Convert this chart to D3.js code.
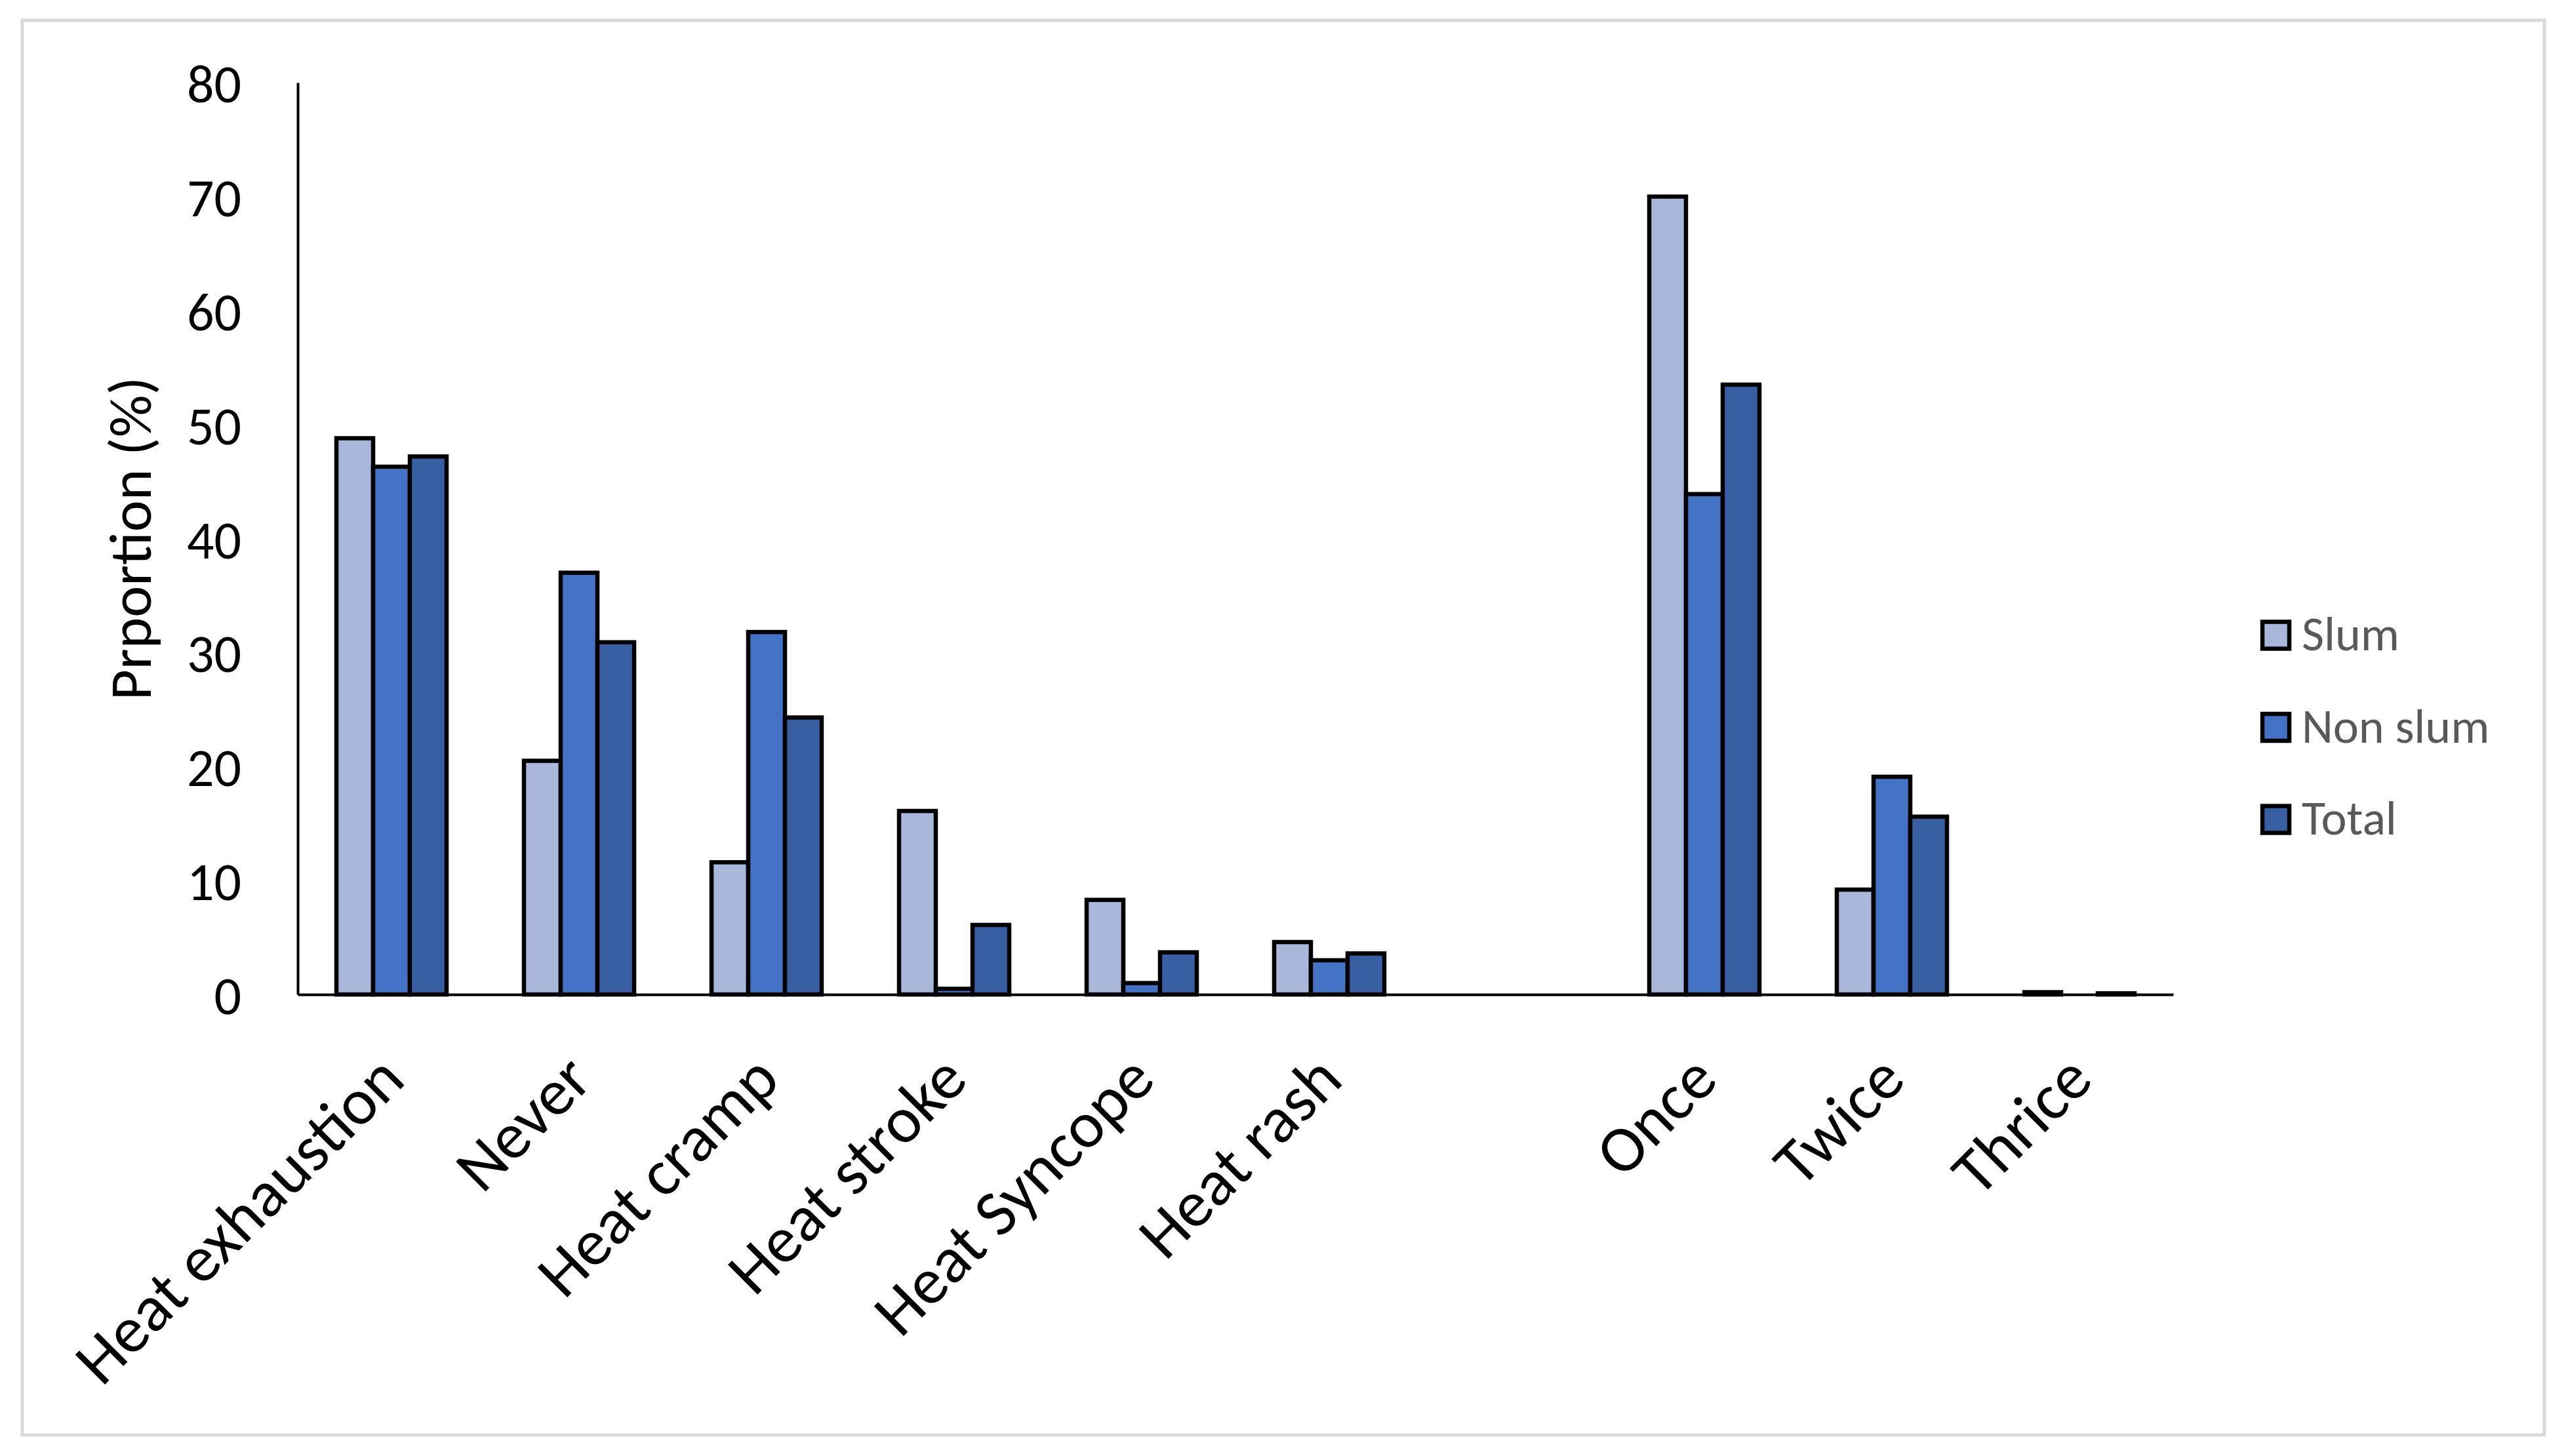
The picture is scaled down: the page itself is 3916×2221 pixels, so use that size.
<!DOCTYPE html>
<html>
<head>
<meta charset="utf-8">
<script src="https://cdn.jsdelivr.net/npm/d3@7"></script>
<style>
  body { margin: 0; background: #fff; }
  svg { display: block; font-family: Calibri, Carlito, Lato, sans-serif; }
</style>
</head>
<body>
<div id="chart"></div>
<script>
const categories = ['Heat exhaustion', 'Never', 'Heat cramp', 'Heat stroke',
  'Heat Syncope', 'Heat rash', '', 'Once', 'Twice', 'Thrice'];
const seriesNames = ['Slum', 'Non slum', 'Total'];
const slum = [48.8, 20.5, 11.6, 16.1, 8.3, 4.6, null, 70.0, 9.2, 0.2];
const nonSlum = [46.3, 37.0, 31.8, 0.5, 1.0, 3.0, null, 43.9, 19.1, 0];
const total = [47.2, 30.9, 24.3, 6.1, 3.7, 3.6, null, 53.5, 15.6, 0.1];
const yTicks = [0, 10, 20, 30, 40, 50, 60, 70, 80];

const colors = ['#A9B7DB', '#4472C4', '#375FA2'];
const values = [slum, nonSlum, total];

const width = 3916;
const height = 2221;
const margin = {top: 126, right: 602, bottom: 704, left: 454};

const svg = d3.select('#chart')
    .append('svg')
    .attr('width', width)
    .attr('height', height);

// chart frame
svg.append('rect')
    .attr('x', 34)
    .attr('y', 31)
    .attr('width', 3846)
    .attr('height', 2158)
    .attr('fill', '#fff')
    .attr('stroke', '#D9D9D9')
    .attr('stroke-width', 5);

const x0 = d3.scaleBand()
    .domain(categories)
    .range([margin.left, width - margin.right])
    .paddingInner(0.4126)
    .paddingOuter(0.2063);

const x1 = d3.scaleBand()
    .domain(seriesNames)
    .range([0, x0.bandwidth()]);

const y = d3.scaleLinear()
    .domain([0, 80])
    .range([height - margin.bottom, margin.top]);

const color = d3.scaleOrdinal(seriesNames, colors);

// bars
const rows = categories.map(function(c, i) {
  return {
    cat: c,
    vals: seriesNames.map(function(s, j) {
      return {series: s, value: values[j][i]};
    }).filter(function(d) {
      return d.value;
    }),
  };
});

const groups = svg.append('g')
    .selectAll('g')
    .data(rows)
    .enter()
    .append('g')
    .attr('transform', function(d) {
      return 'translate(' + x0(d.cat) + ',0)';
    });

groups.selectAll('rect')
    .data(function(d) {
      return d.vals;
    })
    .enter()
    .append('rect')
    .attr('x', function(d) {
      return x1(d.series);
    })
    .attr('y', function(d) {
      return y(d.value);
    })
    .attr('width', x1.bandwidth())
    .attr('height', function(d) {
      return y(0) - y(d.value);
    })
    .attr('fill', function(d) {
      return color(d.series);
    })
    .attr('stroke', '#000')
    .attr('stroke-width', 6.5);

// y axis
const yAxis = svg.append('g')
    .attr('transform', 'translate(' + margin.left + ',0)')
    .call(d3.axisLeft(y).tickValues(yTicks).tickSize(0).tickPadding(86))
    .attr('font-family', null)
    .attr('font-size', null);

yAxis.select('.domain')
    .attr('stroke', '#000')
    .attr('stroke-width', 4);

yAxis.selectAll('text')
    .attr('fill', '#000')
    .attr('dy', '0.36em')
    .style('font-size', '82px');

// x axis
const xAxis = svg.append('g')
    .attr('transform', 'translate(0,' + y(0) + ')')
    .call(d3.axisBottom(x0).tickSize(0))
    .attr('font-family', null)
    .attr('font-size', null);

xAxis.select('.domain')
    .attr('stroke', '#000')
    .attr('stroke-width', 4);

xAxis.selectAll('text')
    .attr('fill', '#000')
    .attr('x', 24)
    .attr('y', 134)
    .attr('dy', null)
    .attr('text-anchor', 'end')
    .attr('transform', 'rotate(-45 24 134)')
    .style('font-size', '100px');

// y title
svg.append('text')
    .attr('transform', 'translate(230,' + ((margin.top + y(0)) / 2) + ') rotate(-90)')
    .attr('text-anchor', 'middle')
    .attr('fill', '#000')
    .style('font-size', '91px')
    .text('Prportion (%)');

// legend
const legend = svg.selectAll('.legend')
    .data(seriesNames)
    .enter()
    .append('g')
    .attr('class', 'legend')
    .attr('transform', function(d, i) {
      return 'translate(3447,' + (969 + i * 140.5) + ')';
    });

legend.append('rect')
    .attr('x', 3)
    .attr('y', -20.5)
    .attr('width', 41)
    .attr('height', 41)
    .attr('fill', color)
    .attr('stroke', '#000')
    .attr('stroke-width', 6.5);

legend.append('text')
    .attr('x', 63)
    .attr('y', 23)
    .attr('fill', '#595959')
    .style('font-size', '74px')
    .text(function(d) {
      return d;
    });
</script>
</body>
</html>
